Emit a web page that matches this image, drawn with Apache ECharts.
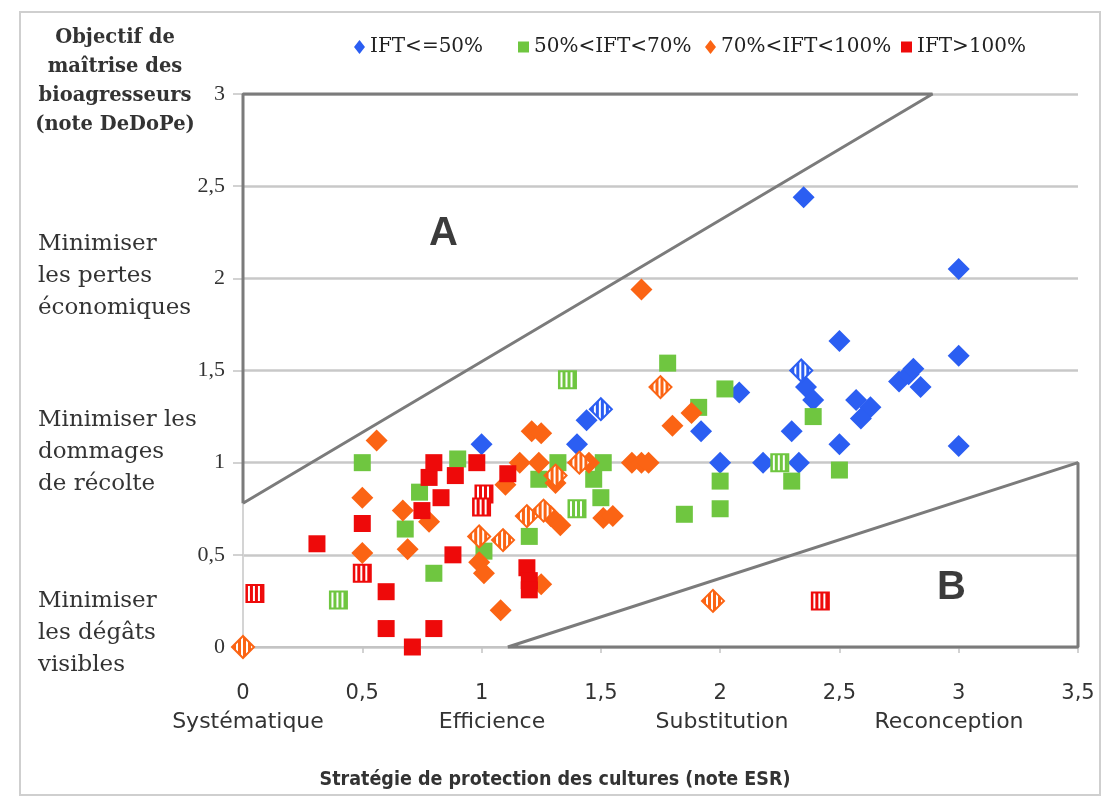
<!DOCTYPE html>
<html>
<head>
<meta charset="utf-8">
<script src="https://cdn.jsdelivr.net/npm/echarts@6/dist/echarts.min.js"></script>
<style>
html,body{margin:0;padding:0;background:#fff;}
#chart{width:1110px;height:797px;}
</style>
</head>
<body>
<div id="chart"></div>
<script>
// ---- data ----
const xTicks = [0, 0.5, 1, 1.5, 2, 2.5, 3, 3.5];
const yTicks = [0, 0.5, 1, 1.5, 2, 2.5, 3];
const seriesNames = ['IFT<=50%', '50%<IFT<70%', '70%<IFT<100%', 'IFT>100%'];

const blueData = [[1.0,1.10],[1.40,1.10],[1.44,1.23],[1.92,1.17],[2.0,1.0],[2.08,1.38],[2.18,1.0],[2.30,1.17],[2.33,1.0],[2.35,2.44],[2.36,1.41],[2.39,1.34],[2.50,1.66],[2.50,1.10],[2.57,1.34],[2.63,1.30],[2.59,1.24],[2.75,1.44],[2.79,1.48],[2.81,1.51],[2.84,1.41],[3.0,2.05],[3.0,1.58],[3.0,1.09]];
const blueHatched = [[1.50,1.29],[2.34,1.50]];

const greenData = [[0.50,1.0],[0.68,0.64],[0.74,0.84],[0.80,0.40],[0.90,1.02],[1.01,0.52],[1.20,0.60],[1.24,0.91],[1.32,1.0],[1.47,0.91],[1.51,1.0],[1.50,0.81],[1.78,1.54],[1.85,0.72],[1.91,1.30],[2.0,0.90],[2.0,0.75],[2.02,1.40],[2.30,0.90],[2.39,1.25],[2.50,0.96]];
const greenHatched = [[0.40,0.255],[1.36,1.45],[1.40,0.75],[2.25,1.0]];

const orangeData = [[0.50,0.81],[0.50,0.51],[0.56,1.12],[0.67,0.74],[0.69,0.53],[0.78,0.68],[0.99,0.46],[1.01,0.40],[1.08,0.20],[1.10,0.88],[1.16,1.0],[1.21,1.17],[1.25,1.16],[1.24,1.0],[1.25,0.34],[1.29,0.71],[1.31,0.89],[1.33,0.66],[1.45,1.0],[1.51,0.70],[1.55,0.71],[1.63,1.0],[1.67,1.0],[1.70,1.0],[1.67,1.94],[1.80,1.20],[1.88,1.27]];
const orangeHatched = [[0.0,0.0],[0.99,0.60],[1.09,0.58],[1.19,0.71],[1.26,0.74],[1.31,0.93],[1.41,1.0],[1.75,1.41],[1.97,0.25]];

const redData = [[0.31,0.56],[0.50,0.67],[0.60,0.30],[0.60,0.10],[0.71,0.0],[0.75,0.74],[0.78,0.92],[0.80,1.0],[0.80,0.10],[0.83,0.81],[0.88,0.50],[0.89,0.93],[0.98,1.0],[1.11,0.94],[1.19,0.43],[1.20,0.36],[1.20,0.31]];
const redHatched = [[0.05,0.29],[0.50,0.40],[1.01,0.83],[1.00,0.76],[2.42,0.25]];

const zoneA = [[0,0.78],[0,3],[2.89,3],[0,0.78]];
const zoneB = [[1.11,0],[3.5,1.0],[3.5,0],[1.11,0]];
const zoneLabels = [{name:'A', value:[0.84,2.24]},{name:'B', value:[2.97,0.32]}];

const yGroups = ['Minimiser\nles pertes\néconomiques', 'Minimiser les\ndommages\nde récolte', 'Minimiser\nles dégâts\nvisibles'];
const xGroups = ['Systématique', 'Efficience', 'Substitution', 'Reconception'];
const yTitle = 'Objectif de\nmaîtrise des\nbioagresseurs\n(note DeDoPe)';
const xTitle = 'Stratégie de protection des cultures (note ESR)';

// ---- styles ----
const colors = ['#2b5ef2', '#6fc640', '#fb6414', '#ee0a0a'];
const symbols = ['diamond', 'rect', 'diamond', 'rect'];
const sizes = [22, 17, 22, 17];
const serif = "'DejaVu Serif', serif";
const sans = "'DejaVu Sans', sans-serif";

function fmt(v){ return String(v).replace('.', ','); }

function stripePattern(color, size){
  const c = document.createElement('canvas');
  c.width = 5; c.height = 5;
  const ctx = c.getContext('2d');
  ctx.fillStyle = '#fff';
  ctx.fillRect(0, 0, 5, 5);
  ctx.fillStyle = color;
  ctx.fillRect(0, 0, 3, 5);
  const s = 2 / size;
  return {type: 'pattern', image: c, repeat: 'repeat', scaleX: s, scaleY: s};
}

function buildData(plain, hatched, color, size){
  const pat = stripePattern(color, size);
  return plain.map(p => ({value: p})).concat(hatched.map(p => ({
    value: p,
    itemStyle: {color: pat, borderColor: color, borderWidth: 2}
  })));
}

const groups = [
  [blueData, blueHatched],
  [greenData, greenHatched],
  [orangeData, orangeHatched],
  [redData, redHatched]
];

const scatterSeries = groups.map((g, i) => ({
  name: seriesNames[i],
  type: 'scatter',
  symbol: symbols[i],
  symbolSize: sizes[i],
  itemStyle: {color: colors[i], opacity: 1},
  data: buildData(g[0], g[1], colors[i], sizes[i]),
  z: 3 + i
}));

const zoneStyle = {color: '#7b7b7b', width: 3};

const legendLefts = [349, 513, 700, 896];
const legends = seriesNames.map((n, i) => ({
  data: [{name: n, icon: symbols[i] === 'rect' ? 'rect' : 'diamond', itemStyle: {color: colors[i]}}],
  left: legendLefts[i],
  top: 32,
  itemWidth: 11,
  itemHeight: symbols[i] === 'rect' ? 11 : 14,
  itemGap: 4,
  textStyle: {fontFamily: serif, fontSize: 20, color: '#222'},
  selectedMode: false
}));

const yGroupTops = [228, 404, 585];
const xGroupCenters = [248, 492, 722, 949];

const graphics = [
  {type: 'rect', shape: {x: 20, y: 12, width: 1080, height: 783}, style: {fill: 'none', stroke: '#cfcfcf', lineWidth: 2}, z: -1},
  {type: 'text', left: 38, top: yGroupTops[0], style: {text: yGroups[0], font: "23px 'DejaVu Serif', serif", lineHeight: 32, fill: '#333'}},
  {type: 'text', left: 38, top: yGroupTops[1], style: {text: yGroups[1], font: "23px 'DejaVu Serif', serif", lineHeight: 32, fill: '#333'}},
  {type: 'text', left: 38, top: yGroupTops[2], style: {text: yGroups[2], font: "23px 'DejaVu Serif', serif", lineHeight: 32, fill: '#333'}},
  {type: 'text', x: 115, y: 23, style: {text: yTitle, font: "bold 19.5px 'DejaVu Serif', serif", lineHeight: 29, fill: '#333', align: 'center'}},
  {type: 'text', x: 555, y: 780, style: {text: xTitle, font: "bold 19.5px 'DejaVu Sans Condensed', 'DejaVu Sans', sans-serif", fill: '#333', align: 'center', verticalAlign: 'middle'}}
].concat(xGroups.map((t, i) => ({
  type: 'text', x: xGroupCenters[i], y: 722,
  style: {text: t, font: "22px 'DejaVu Sans', sans-serif", fill: '#333', align: 'center', verticalAlign: 'middle'}
})));

const option = {
  animation: false,
  backgroundColor: '#fff',
  legend: legends,
  grid: {left: 243, right: 32, top: 94, bottom: 150, containLabel: false},
  xAxis: {
    type: 'value', min: 0, max: 3.5, interval: 0.5,
    axisLine: {show: true, lineStyle: {color: '#c4c4c4', width: 2}},
    axisTick: {show: true, length: 6, lineStyle: {color: '#c4c4c4', width: 1.5}},
    splitLine: {show: false},
    axisLabel: {margin: 36, formatter: fmt, fontFamily: sans, fontSize: 21, color: '#333'}
  },
  yAxis: {
    type: 'value', min: 0, max: 3, interval: 0.5,
    axisLine: {show: true, lineStyle: {color: '#d4d4d4', width: 2}},
    axisTick: {show: true, length: 10, lineStyle: {color: '#c4c4c4', width: 1.5}},
    splitLine: {show: true, lineStyle: {color: '#c8c8c8', width: 2.5}},
    axisLabel: {margin: 18, formatter: fmt, fontFamily: "'Liberation Serif', serif", fontSize: 22, color: '#333'}
  },
  graphic: graphics,
  series: [
    {type: 'line', data: zoneA, symbol: 'none', lineStyle: zoneStyle, silent: true, z: 2, clip: false},
    {type: 'line', data: zoneB, symbol: 'none', lineStyle: zoneStyle, silent: true, z: 2, clip: false},
    {
      type: 'scatter', data: zoneLabels, symbolSize: 1, itemStyle: {color: 'rgba(0,0,0,0)'}, silent: true, z: 10,
      label: {show: true, position: 'inside', formatter: p => p.name, fontFamily: "'Liberation Sans', Arial, sans-serif", fontWeight: 'bold', fontSize: 40, color: '#0a0a0a'}
    }
  ].concat(scatterSeries)
};

const chart = echarts.init(document.getElementById('chart'), null, {renderer: 'canvas'});
chart.setOption(option);
</script>
</body>
</html>
